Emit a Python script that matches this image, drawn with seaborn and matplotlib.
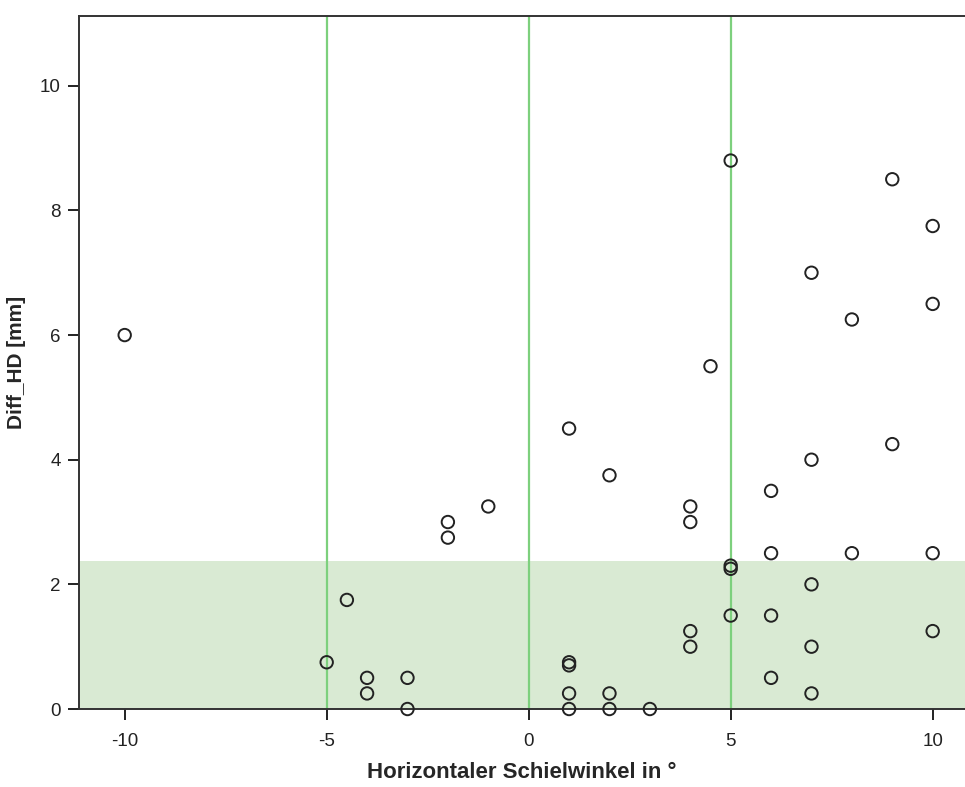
import matplotlib
matplotlib.use("Agg")
import matplotlib.pyplot as plt
import seaborn as sns
import pandas as pd

# Strabismus angle vs. distance difference
angle = [-10, -5, -4.5, -4, -4, -3, -3, -2, -2, -1,
         1, 1, 1, 1, 1, 2, 2, 2, 3,
         4, 4, 4, 4, 4.5,
         5, 5, 5, 5,
         6, 6, 6, 6,
         7, 7, 7, 7, 7,
         8, 8, 9, 9,
         10, 10, 10, 10]
diff_hd = [6.0, 0.75, 1.75, 0.5, 0.25, 0.5, 0.0, 3.0, 2.75, 3.25,
           4.5, 0.75, 0.7, 0.25, 0.0, 3.75, 0.25, 0.0, 0.0,
           3.25, 3.0, 1.25, 1.0, 5.5,
           8.8, 2.3, 2.25, 1.5,
           3.5, 2.5, 1.5, 0.5,
           7.0, 4.0, 2.0, 1.0, 0.25,
           6.25, 2.5, 8.5, 4.25,
           7.75, 6.5, 2.5, 1.25]

ref_lines = [-5, 0, 5]
band_top = 2.38
x_ticks = [-10, -5, 0, 5, 10]
y_ticks = [0, 2, 4, 6, 8, 10]

df = pd.DataFrame({"Horizontaler Schielwinkel in °": angle, "Diff_HD [mm]": diff_hd})

sns.set_style("white")
plt.rcParams["font.family"] = ["Liberation Sans", "DejaVu Sans"]
plt.rcParams["axes.unicode_minus"] = False

fig = plt.figure(figsize=(9.65, 7.87), dpi=100)
ax = fig.add_axes([0.0819, 0.0991, 0.9181, 0.8806])

ax.axhspan(0, band_top, color="#d9ead3", zorder=0, lw=0)
for xv in ref_lines:
    ax.axvline(xv, color="#7dd07d", lw=1.6, zorder=1)

sns.scatterplot(data=df, x="Horizontaler Schielwinkel in °", y="Diff_HD [mm]",
                ax=ax, marker="o", s=80, facecolor="none", edgecolor="#222222",
                linewidth=1.4, zorder=3, clip_on=False)

ax.set_xlim(-11.13, 10.8)
ax.set_ylim(0, 11.12)
ax.set_xticks(x_ticks)
ax.set_yticks(y_ticks)
ax.tick_params(axis="both", direction="out", length=8, width=1.4,
               labelsize=13.5, colors="#222222", bottom=True, left=True)
ax.tick_params(axis="x", pad=9)
ax.tick_params(axis="y", pad=5)

for side in ["left", "bottom", "top"]:
    ax.spines[side].set_visible(True)
    ax.spines[side].set_color("#333333")
    ax.spines[side].set_linewidth(1.4)
ax.spines["right"].set_visible(False)

ax.set_xlabel("Horizontaler Schielwinkel in °", fontsize=16, fontweight="bold",
              labelpad=9)
ax.set_ylabel("Diff_HD [mm]", fontsize=15, fontweight="bold", labelpad=10)

fig.savefig("out.png", dpi=100)
